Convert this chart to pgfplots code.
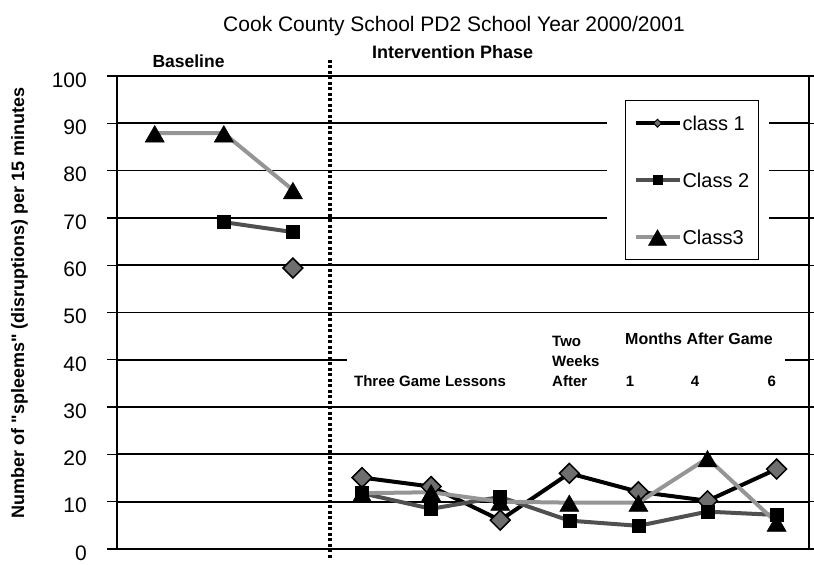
\documentclass[border=0pt]{standalone}
\usepackage{pgfplots}
\pgfplotsset{compat=1.18}
\usepackage{fontspec}
\setmainfont{Liberation Sans}
\newfontfamily\plainfont{Liberation Sans}[Ligatures=TeXOff]
\definecolor{cOneFill}{HTML}{6E6E6E}
\definecolor{cTwo}{HTML}{505050}
\definecolor{cThree}{HTML}{959595}
\begin{document}
\begin{tikzpicture}
\useasboundingbox (-117bp,-16bp) rectangle (697bp,549bp);
\begin{axis}[
  at={(0,0)}, anchor=south west,
  scale only axis, width=692bp, height=473bp,
  xmin=-0.546, xmax=9.469, ymin=0, ymax=100,
  xtick=\empty,
  ytick={0,10,...,100},
  ymajorgrids, grid style={black, line width=1.8bp},
  axis line style={black, line width=1.3bp},
  tick style={black, line width=1.3bp},
  tick align=outside, major tick length=10bp,
  /pgf/number format/assume math mode=true,
  yticklabel style={font=\fontsize{21bp}{25bp}\selectfont, inner sep=0pt, xshift=-20bp, yshift=-4bp},
  clip=false,
  unbounded coords=jump,
  legend cell align=left,
  legend image code/.code={\draw[mark repeat=2,mark phase=2,#1] plot coordinates {(0bp,0bp) (22bp,0bp) (44bp,0bp)};},
  legend style={at={(axis description cs:0.734,0.949)}, anchor=north west, draw=black, line width=1.2bp, fill=white,
    font=\fontsize{20bp}{24bp}\selectfont, inner xsep=8bp, inner ysep=10bp, row sep=32bp, column sep=0pt,
    nodes={inner sep=1bp, text height=19bp, text depth=4bp}},
]
% white backgrounds of text boxes
\fill[white] (2.78,31.9) rectangle (9.12,47.4);
\fill[white] (6.545,61.5) rectangle (8.89,96);

% class 1
\addplot[forget plot, black, line width=4bp, mark=square*, mark size=7bp,
  mark options={rotate=45, fill=cOneFill, draw=black, line width=1.5bp}]
  coordinates {(2,59.4) (2.5,nan) (3,15.1) (4,13.2) (5,6.1) (6,16) (7,12.1) (8,10.2) (9,16.9)};
% class 2
\addplot[forget plot, cTwo, line width=4bp, mark=square*, mark size=6.5bp,
  mark options={fill=black, draw=black, line width=0.5bp}]
  coordinates {(1,69.1) (2,67) (2.5,nan) (3,11.8) (4,8.5) (5,11) (6,6) (7,4.9) (8,7.9) (9,7.2)};
% class 3
\addplot[forget plot, cThree, line width=4bp, mark=triangle*, mark size=11bp,
  mark options={fill=black, draw=black, line width=0.5bp, yshift=-3.3bp}]
  coordinates {(0,87.9) (1,87.9) (2,75.9) (2.5,nan) (3,11.8) (4,12) (5,10) (6,9.8) (7,9.8) (8,19.2) (9,5.6)};

\addlegendimage{black, line width=4bp, mark=square*, mark size=2.8bp, mark options={rotate=45, fill=cOneFill, draw=black, line width=1bp}}
\addlegendentry{class 1}
\addlegendimage{cTwo, line width=4bp, mark=square*, mark size=4.5bp, mark options={fill=black, draw=black, line width=0.5bp}}
\addlegendentry{Class 2}
\addlegendimage{cThree, line width=4bp, mark=triangle*, mark size=10.5bp, mark options={fill=black, draw=black, line width=0.5bp, yshift=-3bp}}
\addlegendentry{Class3}

% phase separator
\draw[black, line width=4bp, dash pattern=on 3bp off 2.5bp] (2.537,103.4) -- (2.537,-1.9);

% texts
\node[anchor=base, font=\fontsize{21bp}{25bp}\selectfont] at ([yshift=44bp]rel axis cs:0.487,1) {Cook County School PD2 School Year 2000/2001};
\node[rotate=90, font=\plainfont\bfseries\fontsize{18bp}{20bp}\selectfont] at ([xshift=-97.5bp]rel axis cs:0,0.521) {Number of "spleems" (disruptions) per 15 minutes};
\node[anchor=base, font=\bfseries\fontsize{17.5bp}{20bp}\selectfont] at (0.489,101.7) {Baseline};
\node[anchor=base, font=\bfseries\fontsize{18bp}{20bp}\selectfont] at (4.31,103.6) {Intervention Phase};
\node[anchor=base, font=\bfseries\fontsize{15bp}{18bp}\selectfont] at (3.984,34.46) {Three Game Lessons};
\node[anchor=base west, inner sep=0pt, font=\bfseries\fontsize{15bp}{18bp}\selectfont] at (5.75,42.9) {Two};
\node[anchor=base west, inner sep=0pt, font=\bfseries\fontsize{15bp}{18bp}\selectfont] at (5.75,38.5) {Weeks};
\node[anchor=base west, inner sep=0pt, font=\bfseries\fontsize{15bp}{18bp}\selectfont] at (5.75,34.25) {After};
\node[anchor=base, font=\bfseries\fontsize{16bp}{18bp}\selectfont] at (7.877,43.3) {Months After Game};
\node[anchor=base, font=\bfseries\fontsize{15bp}{18bp}\selectfont] at (6.879,34.25) {1};
\node[anchor=base, font=\bfseries\fontsize{15bp}{18bp}\selectfont] at (7.82,34.25) {4};
\node[anchor=base, font=\bfseries\fontsize{15bp}{18bp}\selectfont] at (8.93,34.25) {6};
\end{axis}
\end{tikzpicture}
\end{document}
